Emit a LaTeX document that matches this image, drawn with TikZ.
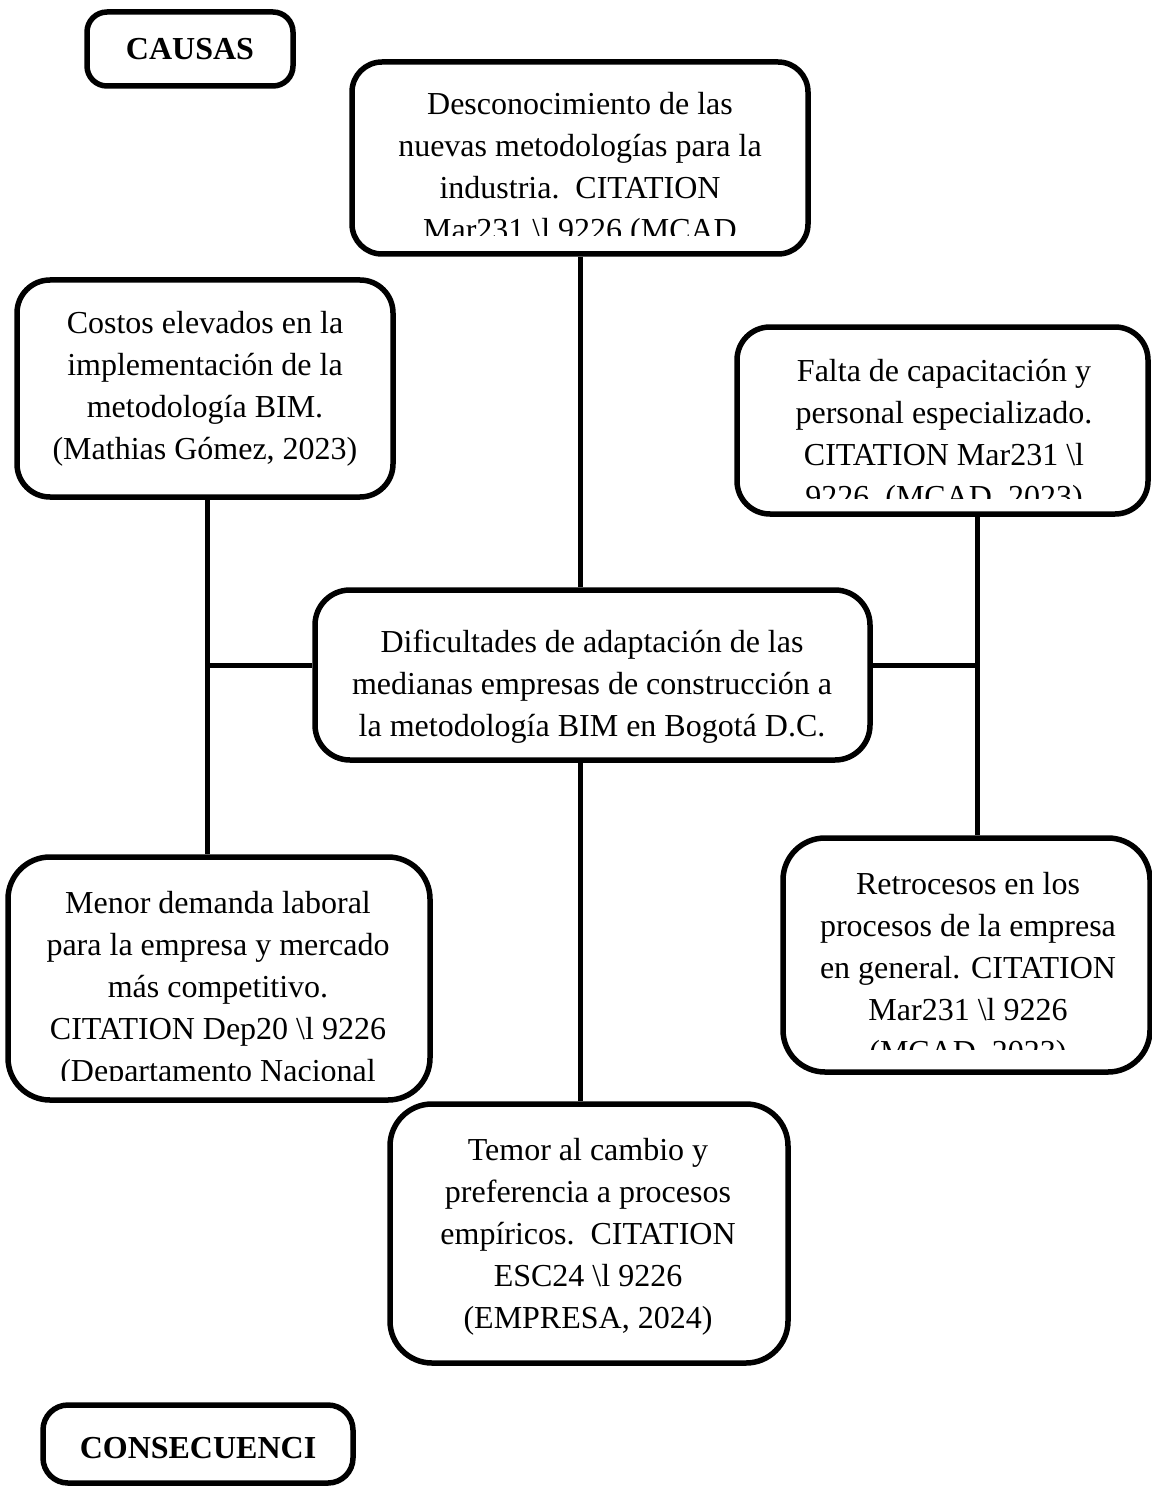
\documentclass[tikz,border=0pt]{standalone}
\usepackage{fontspec}
\setmainfont{Liberation Serif}
\tikzset{
  x=1pt, y=-1pt,
  box/.style={draw=black, line width=5.5pt, fill=white, inner sep=0pt},
  txt/.style={inner sep=0pt, anchor=base, font=\fontsize{32}{42}\selectfont},
  conn/.style={draw=black, line width=5pt}
}
\newcommand{\bs}{\textbackslash{}}
\newcommand{\cbox}[1]{\parbox[t]{700pt}{\centering #1}}
\begin{document}
\begin{tikzpicture}
\useasboundingbox (0,0) rectangle (1151,1487);
\fill[white] (0,0) rectangle (1151,1487);

% junction coordinates
\coordinate (jl) at (207,665);
\coordinate (jr) at (977,665);

% boxes
\node[box, rounded corners=20pt, minimum width=206pt, minimum height=74pt] (causas) at (190,49) {};
\node[box, rounded corners=30pt, minimum width=456pt, minimum height=192pt] (top) at (580,158) {};
\node[box, rounded corners=33pt, minimum width=376pt, minimum height=217pt] (left) at (205,388.5) {};
\node[box, rounded corners=33pt, minimum width=411pt, minimum height=187pt] (right) at (942.5,420.5) {};
\node[box, rounded corners=35pt, minimum width=555pt, minimum height=170pt] (center) at (592.5,675) {};
\node[box, rounded corners=42pt, minimum width=422pt, minimum height=243pt] (menor) at (219,978.5) {};
\node[box, rounded corners=42pt, minimum width=367pt, minimum height=234pt] (retro) at (966.5,955) {};
\node[box, rounded corners=42pt, minimum width=398pt, minimum height=259pt] (temor) at (589,1233.5) {};
\node[box, rounded corners=25pt, minimum width=310pt, minimum height=78pt] (consec) at (198,1444) {};

% connectors
\draw[conn] (top.south -| 580,0) -- (580,0 |- center.north);
\draw[conn] (580,0 |- center.south) -- (580,0 |- temor.north);
\draw[conn] (jl |- left.south) -- (jl |- menor.north);
\draw[conn] (jl) -- (jl -| center.west);
\draw[conn] (jr |- right.south) -- (jr |- retro.north);
\draw[conn] (jr -| center.east) -- (jr);

% texts
\node[txt, font=\fontsize{32}{42}\selectfont\bfseries] (causasT) at (190,60) {CAUSAS};

\begin{scope}
\clip (352,62) rectangle (808,236);
\node[txt] (topT) at (580,115) {\cbox{Desconocimiento de las\\nuevas metodologías para la\\industria.\ \ CITATION\\Mar231 \bs l 9226 (MCAD}};
\end{scope}

\node[txt] (leftT) at (205,333) {\cbox{Costos elevados en la\\implementación de la\\metodología BIM.\\(Mathias Gómez, 2023)}};

\begin{scope}
\clip (737,327) rectangle (1151,498);
\node[txt] (rightT) at (944,381) {\cbox{Falta de capacitación y\\personal especializado.\\CITATION Mar231 \bs l\\9226\ \ (MCAD, 2023)}};
\end{scope}

\node[txt] (centerT) at (592,652) {\cbox{Dificultades de adaptación de las\\medianas empresas de construcción a\\la metodología BIM en Bogotá D.C.}};

\begin{scope}
\clip (8,857) rectangle (430,1080);
\node[txt] (menorT) at (218,913) {\cbox{Menor demanda laboral\\para la empresa y mercado\\más competitivo.\\CITATION Dep20 \bs l 9226\\(Departamento Nacional}};
\end{scope}

\begin{scope}
\clip (783,838) rectangle (1151,1049);
\node[txt] (retroT) at (968,894) {\cbox{Retrocesos en los\\procesos de la empresa\\en general. CITATION\\Mar231 \bs l 9226\\(MCAD, 2023)}};
\end{scope}

\node[txt] (temorT) at (588,1160) {\cbox{Temor al cambio y\\preferencia a procesos\\empíricos.\ \ CITATION\\ESC24 \bs l 9226\\(EMPRESA, 2024)}};

\node[txt, font=\fontsize{32}{42}\selectfont\bfseries] (consecT) at (198,1458) {CONSECUENCI};
\end{tikzpicture}
\end{document}
